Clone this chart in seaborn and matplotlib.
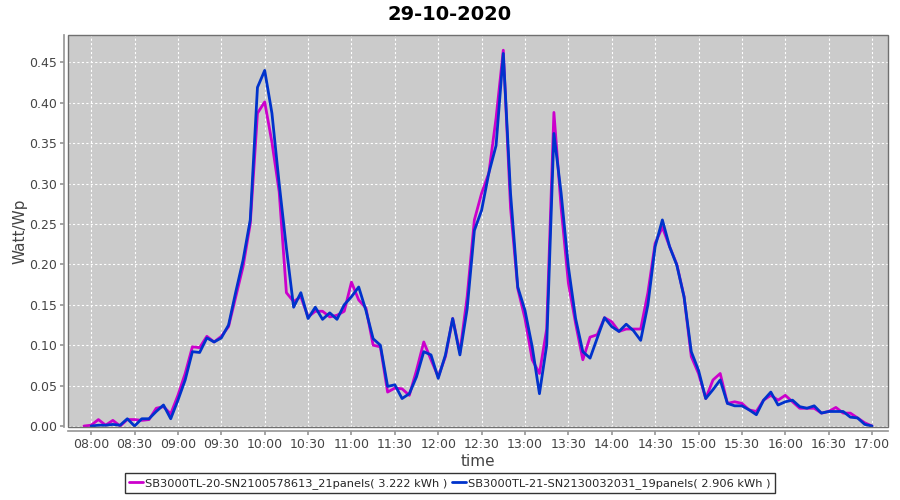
import numpy as np
import pandas as pd
import matplotlib
matplotlib.use("Agg")
import matplotlib.pyplot as plt
from matplotlib.patches import Rectangle
from matplotlib.ticker import FuncFormatter, MultipleLocator
import seaborn as sns

# 5-minute samples, 07:55 .. 17:00
times = [f"{h:02d}:{m:02d}" for h in range(7, 18) for m in range(0, 60, 5)]
times = [t for t in times if "07:55" <= t <= "17:00"]

sb20 = [0.000, 0.001, 0.008, 0.001, 0.007, 0.000, 0.008, 0.008, 0.007, 0.008, 0.022, 0.024,
        0.015, 0.038, 0.065, 0.098, 0.097, 0.111, 0.104, 0.111, 0.123, 0.160, 0.197, 0.250,
        0.387, 0.401, 0.351, 0.290, 0.165, 0.154, 0.160, 0.135, 0.142, 0.142, 0.135, 0.137,
        0.142, 0.178, 0.156, 0.146, 0.100, 0.098, 0.042, 0.047, 0.046, 0.038, 0.069, 0.104,
        0.082, 0.061, 0.086, 0.133, 0.091, 0.160, 0.255, 0.288, 0.313, 0.381, 0.465, 0.270,
        0.170, 0.133, 0.082, 0.065, 0.120, 0.388, 0.270, 0.177, 0.127, 0.082, 0.110, 0.113,
        0.134, 0.129, 0.117, 0.120, 0.120, 0.120, 0.165, 0.226, 0.246, 0.222, 0.200, 0.160,
        0.086, 0.065, 0.034, 0.057, 0.065, 0.028, 0.030, 0.028, 0.020, 0.018, 0.032, 0.038,
        0.032, 0.038, 0.030, 0.022, 0.022, 0.022, 0.016, 0.018, 0.023, 0.016, 0.016, 0.010,
        0.004, 0.000]

sb21 = [np.nan, 0.000, 0.001, 0.001, 0.002, 0.001, 0.009, 0.000, 0.009, 0.009, 0.018, 0.026,
        0.009, 0.032, 0.057, 0.092, 0.091, 0.109, 0.104, 0.109, 0.125, 0.166, 0.205, 0.255,
        0.419, 0.440, 0.387, 0.300, 0.220, 0.147, 0.165, 0.133, 0.147, 0.132, 0.140, 0.132,
        0.150, 0.160, 0.172, 0.143, 0.108, 0.100, 0.049, 0.051, 0.034, 0.040, 0.061, 0.092,
        0.088, 0.059, 0.088, 0.133, 0.088, 0.145, 0.242, 0.267, 0.313, 0.347, 0.461, 0.288,
        0.172, 0.143, 0.098, 0.040, 0.100, 0.362, 0.288, 0.197, 0.133, 0.092, 0.084, 0.109,
        0.134, 0.123, 0.117, 0.126, 0.118, 0.106, 0.150, 0.222, 0.255, 0.222, 0.199, 0.160,
        0.092, 0.069, 0.034, 0.045, 0.057, 0.028, 0.025, 0.025, 0.020, 0.014, 0.032, 0.042,
        0.026, 0.030, 0.032, 0.024, 0.022, 0.025, 0.016, 0.018, 0.018, 0.018, 0.011, 0.010,
        0.002, 0.000]

labels = ["SB3000TL-20-SN2100578613_21panels( 3.222 kWh )",
          "SB3000TL-21-SN2130032031_19panels( 2.906 kWh )"]
colors = ["#cc00cc", "#0033cc"]

minutes = [int(t[:2]) * 60 + int(t[3:]) for t in times]
df = pd.concat([
    pd.DataFrame({"minute": minutes, "value": sb20, "series": labels[0]}),
    pd.DataFrame({"minute": minutes, "value": sb21, "series": labels[1]}),
]).dropna()

sns.set_theme(style="white")
plt.rcParams["font.family"] = ["DejaVu Sans"]

fig = plt.figure(figsize=(9, 5), dpi=100)
ax = fig.add_axes([0.0756, 0.146, 0.911, 0.784])
ax.set_facecolor("#cbcbcb")

sns.lineplot(data=df, x="minute", y="value", hue="series", palette=colors,
             linewidth=2, ax=ax, legend=False, sort=True)

ax.set_xlim(464, 1031)
ax.set_ylim(-0.0012, 0.4838)
ax.xaxis.set_major_locator(MultipleLocator(30))
ax.xaxis.set_major_formatter(FuncFormatter(lambda v, p: f"{int(v)//60:02d}:{int(v)%60:02d}"))
ax.yaxis.set_major_locator(MultipleLocator(0.05))
ax.yaxis.set_major_formatter(FuncFormatter(lambda v, p: f"{v:.2f}"))
ax.grid(True, color="white", linestyle=(0, (2, 2)), linewidth=0.8)

for s in ["top", "right"]:
    ax.spines[s].set_visible(False)
for s in ["left", "bottom"]:
    ax.spines[s].set_position(("outward", 3))
    ax.spines[s].set_color("#999999")
ax.add_patch(Rectangle((0, 0), 1, 1, transform=ax.transAxes, fill=False,
                       edgecolor="#707070", lw=1, clip_on=False, zorder=5))

ax.tick_params(axis="both", which="major", length=3, color="#999999",
               labelsize=9, labelcolor="#444444", direction="out", pad=2,
               bottom=True, left=True)
ax.set_xlabel("time", fontsize=11, color="#444444", labelpad=2)
ax.set_ylabel("Watt/Wp", fontsize=11, color="#444444", labelpad=1)

fig.suptitle("29-10-2020", y=0.99, fontsize=14, fontweight="bold", color="black")

handles = [plt.Line2D([], [], color=c, lw=2) for c in colors]
leg = fig.legend(handles, labels, loc="lower center", bbox_to_anchor=(0.5, 0.002),
                 ncol=2, frameon=True, fancybox=False, fontsize=8.2,
                 handlelength=1.2, handletextpad=0.2, columnspacing=0.4,
                 borderpad=0.4, edgecolor="black")
leg.get_frame().set_linewidth(1)

fig.savefig("out.png", dpi=100)
